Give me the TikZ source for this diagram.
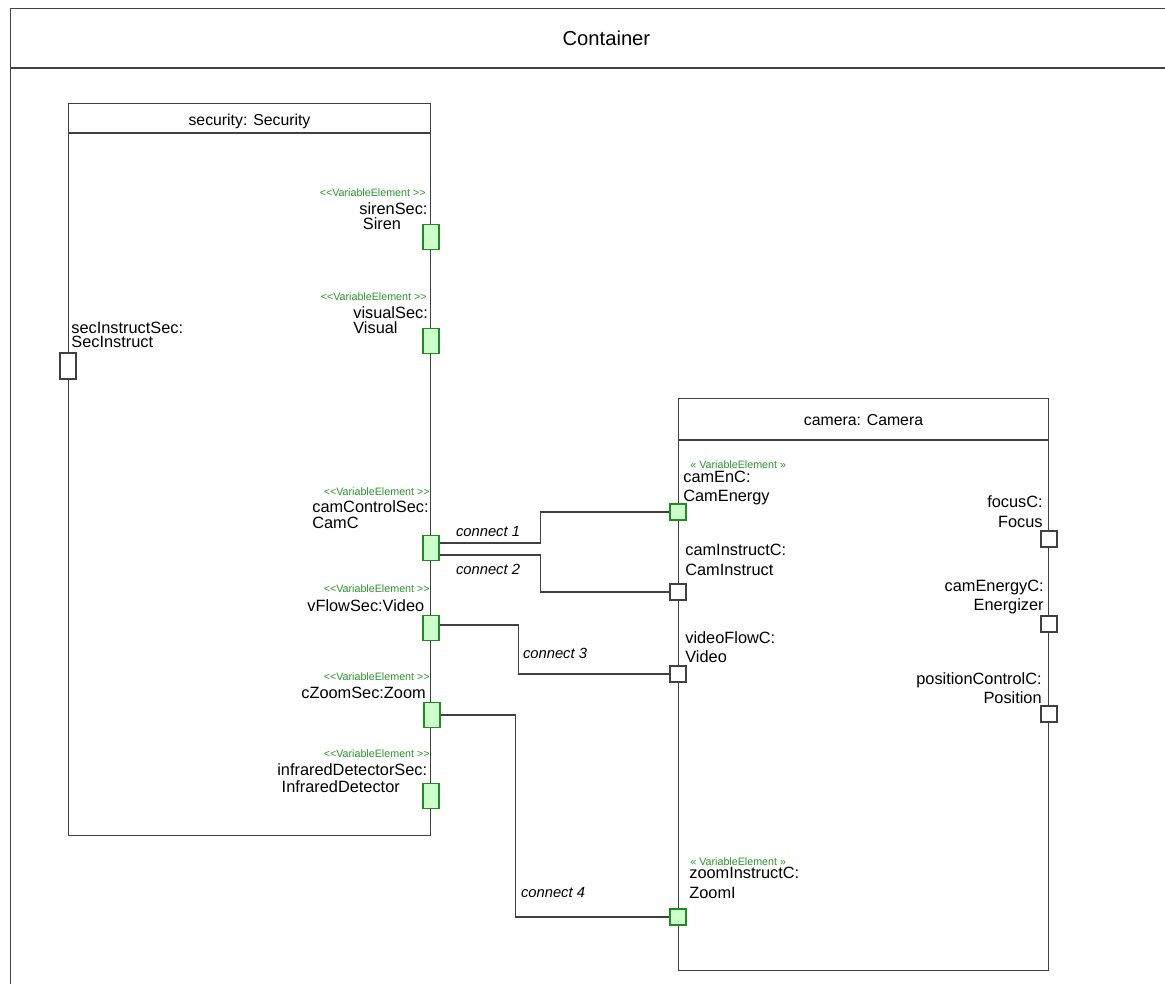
\documentclass[tikz,border=0pt]{standalone}
\usepackage{fontspec}
\setmainfont{Liberation Sans}
\newfontfamily\plainsans{Liberation Sans}[Ligatures=TeXOff]
\usetikzlibrary{positioning}

\definecolor{linegray}{RGB}{64,64,64}
\definecolor{vargreen}{RGB}{40,150,40}
\definecolor{varfill}{RGB}{204,255,204}
\definecolor{portline}{RGB}{30,140,30}

\begin{document}
\begin{tikzpicture}[
    x=0.02cm, y=-0.02cm,
    blockbox/.style={rectangle, draw=linegray, line width=0.6pt, anchor=north west, inner sep=0pt},
    blocktitle/.style={font=\fontsize{9}{11}\selectfont, inner sep=0pt},
    port/.style={rectangle, draw=linegray, fill=white, line width=0.6pt, inner sep=0pt, minimum width=0.32cm, minimum height=0.32cm},
    varport/.style={port, draw=portline, fill=varfill},
    secport/.style={varport, minimum height=0.5cm},
    stereo/.style={font=\plainsans\fontsize{6.1}{7}\selectfont, text=vargreen, inner sep=0pt},
    seclabel/.style={font=\fontsize{9.3}{8.3}\selectfont, align=left, anchor=west, inner sep=0pt},
    camlabel/.style={font=\fontsize{9.3}{11.2}\selectfont, align=left, anchor=west, inner sep=0pt},
    camrlabel/.style={camlabel, align=right, anchor=east},
    wire/.style={draw=linegray, line width=0.6pt},
    conn/.style={font=\fontsize{8.4}{10}\selectfont\itshape, inner sep=0pt}
]
    \useasboundingbox (0,0) rectangle (1165,983);
    \clip (0,0) rectangle (1165,983);

    % outer container
    \node[blockbox, minimum width=23.84cm, minimum height=20.04cm] (container) at (10,8) {};
    \draw[wire] ([yshift=-1.2cm]container.north west) -- ([yshift=-1.2cm]container.north east);
    \node[blocktitle, font=\fontsize{11.5}{13}\selectfont] (containertitle) at ([yshift=-0.6cm]container.north) {Container};

    % security part
    \node[blockbox, minimum width=7.24cm, minimum height=14.64cm] (security) at (68,103) {};
    \draw[wire] ([yshift=-0.6cm]security.north west) -- ([yshift=-0.6cm]security.north east);
    \node[blocktitle] (securitytitle) at ([yshift=-0.36cm]security.north) {security: Security};

    % camera part
    \node[blockbox, minimum width=7.4cm, minimum height=11.44cm] (camera) at (678,398) {};
    \draw[wire] ([yshift=-0.84cm]camera.north west) -- ([yshift=-0.84cm]camera.north east);
    \node[blocktitle] (cameratitle) at ([yshift=-0.44cm]camera.north) {camera: Camera};

    % ports of security
    \node[secport] (sirensec) at (security.east |- 0,237) {};
    \node[secport] (visualsec) at (security.east |- 0,341) {};
    \node[secport] (camctlsec) at (security.east |- 0,548) {};
    \node[secport] (vflowsec) at (security.east |- 0,628) {};
    \node[secport] (czoomsec) at (432,715) {};
    \node[secport] (irsec) at (security.east |- 0,796) {};
    \node[port, minimum height=0.52cm] (secinstsec) at (security.west |- 0,366) {};

    % ports of camera
    \node[varport] (camenc) at (camera.west |- 0,512) {};
    \node[port] (caminstc) at (camera.west |- 0,592) {};
    \node[port] (vidflowc) at (camera.west |- 0,674) {};
    \node[varport] (zoominstc) at (camera.west |- 0,917) {};
    \node[port] (focusc) at (camera.east |- 0,539) {};
    \node[port] (camenergyc) at (camera.east |- 0,624) {};
    \node[port] (posctlc) at (camera.east |- 0,714) {};

    % security port labels
    \node[stereo, anchor=east] (sirenst) at (426,193) {<<VariableElement >>};
    \node[seclabel] (sirentext) at (359,216) {sirenSec:\\\hspace{2pt}Siren};
    \node[stereo, anchor=east] (visualst) at (427,297) {<<VariableElement >>};
    \node[seclabel] (visualtext) at (353,320) {visualSec:\\Visual};
    \node[seclabel] (secinsttext) at (71,335) {secInstructSec:\\SecInstruct};
    \node[stereo, anchor=east] (camctlst) at (430,492) {<<VariableElement >>};
    \node[seclabel, font=\fontsize{9.3}{9.1}\selectfont] (camctltext) at (312,515) {camControlSec:\\CamC};
    \node[stereo, anchor=east] (vflowst) at (430,589) {<<VariableElement >>};
    \node[seclabel] (vflowtext) at (307,606) {vFlowSec:Video};
    \node[stereo, anchor=east] (czoomst) at (430,677) {<<VariableElement >>};
    \node[seclabel] (czoomtext) at (301,693) {cZoomSec:Zoom};
    \node[stereo, anchor=east] (irst) at (430,754) {<<VariableElement >>};
    \node[seclabel, font=\fontsize{9.3}{9.5}\selectfont] (irtext) at (277,778) {infraredDetectorSec:\\\hspace{2.5pt}InfraredDetector};

    % camera port labels
    \node[stereo, anchor=west] (camencst) at (690,465) {« VariableElement  »};
    \node[camlabel] (camenctext) at (683,488) {camEnC:\\CamEnergy};
    \node[camlabel] (caminsttext) at (685,560) {camInstructC:\\CamInstruct};
    \node[camlabel] (vidflowtext) at (685,647) {videoFlowC:\\Video};
    \node[stereo, anchor=west] (zoominstst) at (690,862) {« VariableElement  »};
    \node[camlabel] (zoominsttext) at (689,883) {zoomInstructC:\\ZoomI};
    \node[camrlabel] (focustext) at (1043,512) {focusC:\\Focus};
    \node[camrlabel] (camenergytext) at (1044,597) {camEnergyC:\\Energizer};
    \node[camrlabel] (posctltext) at (1042,688) {positionControlC:\\Position};

    % connectors
    \draw[wire] ([yshift=0.1cm]camctlsec.east) -- ++(101,0) |- (camenc);
    \draw[wire] ([yshift=-0.14cm]camctlsec.east) -- ++(101,0) |- (caminstc);
    \draw[wire] ([yshift=0.06cm]vflowsec.east) -- ++(79,0) |- (vidflowc);
    \draw[wire] (czoomsec.east) -- ++(75,0) |- (zoominstc);

    \node[conn] (conn1) at (488,531) {connect 1};
    \node[conn] (conn2) at (488,569) {connect 2};
    \node[conn] (conn3) at (555,653) {connect 3};
    \node[conn] (conn4) at (553,892) {connect 4};
\end{tikzpicture}
\end{document}
